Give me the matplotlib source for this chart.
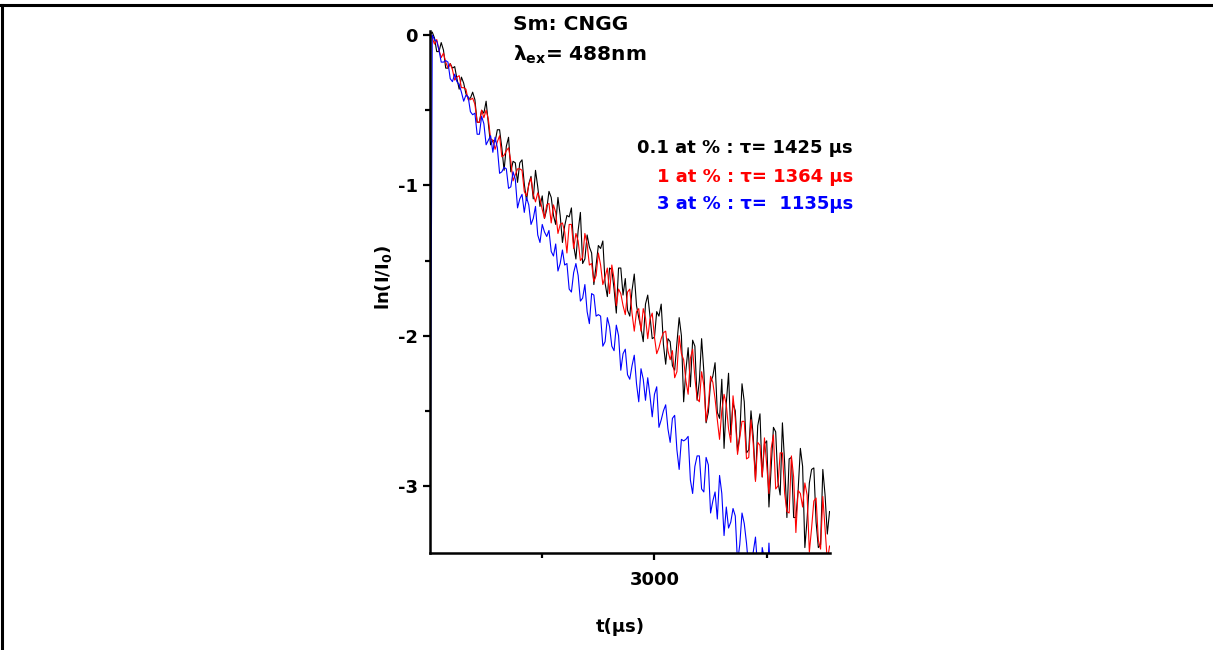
import numpy as np
import matplotlib
matplotlib.use("Agg")
import matplotlib.pyplot as plt
from matplotlib.lines import Line2D
from matplotlib.ticker import MultipleLocator, FixedLocator

# time base (µs), one sample every 10 µs
t_us = np.arange(2000, 3781, 10)

# ln(I/I0)
ln_01 = [0.00, 0.02, -0.02, -0.11, -0.11, -0.05, -0.10, -0.22, -0.22, -0.19,
         -0.22, -0.21, -0.29, -0.36, -0.28, -0.32, -0.39, -0.42, -0.42, -0.38,
         -0.43, -0.58, -0.58, -0.50, -0.52, -0.44, -0.59, -0.73, -0.70, -0.71,
         -0.63, -0.63, -0.75, -0.90, -0.74, -0.68, -0.91, -0.84, -0.85, -0.98,
         -0.85, -0.83, -0.99, -1.10, -0.99, -0.94, -1.09, -0.90, -1.01, -1.14,
         -1.07, -1.22, -1.16, -1.04, -1.08, -1.20, -1.26, -1.08, -1.20, -1.38,
         -1.27, -1.20, -1.21, -1.15, -1.40, -1.49, -1.30, -1.18, -1.52, -1.49,
         -1.33, -1.41, -1.45, -1.66, -1.53, -1.40, -1.42, -1.37, -1.65, -1.74,
         -1.55, -1.56, -1.69, -1.85, -1.55, -1.55, -1.73, -1.62, -1.83, -1.87,
         -1.70, -1.59, -1.80, -1.88, -1.95, -2.04, -1.79, -1.73, -1.87, -2.02,
         -2.01, -1.84, -1.87, -1.79, -2.06, -2.19, -2.02, -2.04, -2.20, -2.23,
         -2.05, -1.88, -2.00, -2.44, -2.23, -2.08, -2.34, -2.03, -2.07, -2.43,
         -2.30, -2.02, -2.24, -2.58, -2.51, -2.31, -2.27, -2.18, -2.51, -2.55,
         -2.29, -2.75, -2.45, -2.25, -2.66, -2.45, -2.50, -2.77, -2.66, -2.32,
         -2.44, -2.78, -2.76, -2.50, -2.67, -2.96, -2.60, -2.52, -2.94, -2.72,
         -2.70, -3.14, -2.87, -2.61, -2.64, -2.97, -3.06, -2.58, -2.85, -3.21,
         -2.82, -2.81, -3.21, -3.21, -3.03, -2.75, -2.87, -3.41, -3.22, -2.98,
         -2.89, -2.88, -3.24, -3.41, -3.39, -2.89, -3.06, -3.32, -3.17]

ln_1 = [0.01, -0.02, -0.06, -0.03, -0.10, -0.15, -0.12, -0.18, -0.22, -0.19,
        -0.23, -0.30, -0.28, -0.27, -0.35, -0.35, -0.36, -0.43, -0.43, -0.42,
        -0.46, -0.58, -0.58, -0.50, -0.55, -0.50, -0.56, -0.69, -0.70, -0.76,
        -0.71, -0.67, -0.81, -0.80, -0.77, -0.75, -0.84, -0.97, -0.93, -0.89,
        -0.89, -0.90, -1.04, -1.07, -1.00, -0.95, -1.06, -1.11, -1.05, -1.09,
        -1.16, -1.22, -1.13, -1.12, -1.25, -1.13, -1.18, -1.32, -1.26, -1.25,
        -1.31, -1.45, -1.26, -1.26, -1.42, -1.32, -1.37, -1.50, -1.48, -1.32,
        -1.39, -1.53, -1.52, -1.64, -1.60, -1.45, -1.53, -1.66, -1.61, -1.55,
        -1.72, -1.53, -1.62, -1.80, -1.69, -1.72, -1.80, -1.86, -1.71, -1.69,
        -1.85, -1.97, -1.84, -1.82, -1.97, -1.82, -1.88, -2.02, -1.89, -1.85,
        -2.01, -2.12, -2.08, -2.02, -1.98, -1.97, -2.10, -2.16, -2.10, -2.28,
        -2.24, -2.00, -2.12, -2.16, -2.30, -2.39, -2.15, -2.09, -2.28, -2.42,
        -2.44, -2.24, -2.33, -2.57, -2.46, -2.27, -2.31, -2.42, -2.56, -2.69,
        -2.50, -2.39, -2.46, -2.62, -2.71, -2.40, -2.55, -2.79, -2.68, -2.57,
        -2.57, -2.82, -2.81, -2.56, -2.72, -2.97, -2.71, -2.73, -2.94, -2.68,
        -2.86, -3.05, -2.75, -2.66, -3.02, -3.00, -2.78, -2.78, -3.05, -3.17,
        -3.18, -2.80, -2.94, -3.31, -3.03, -3.05, -3.14, -2.98, -3.06, -3.44,
        -3.28, -3.10, -3.08, -3.36, -3.42, -3.07, -3.28, -3.50, -3.40]

ln_3 = [-3.60, 0.00, -0.03, -0.04, -0.10, -0.18, -0.18, -0.17, -0.18, -0.29,
        -0.31, -0.26, -0.31, -0.33, -0.38, -0.44, -0.40, -0.41, -0.51, -0.53,
        -0.52, -0.66, -0.66, -0.54, -0.59, -0.73, -0.70, -0.67, -0.78, -0.68,
        -0.75, -0.92, -0.91, -0.88, -0.89, -1.02, -1.01, -0.91, -0.96, -1.15,
        -1.09, -1.06, -1.18, -1.08, -1.13, -1.26, -1.22, -1.14, -1.33, -1.38,
        -1.26, -1.31, -1.34, -1.30, -1.44, -1.47, -1.39, -1.57, -1.52, -1.43,
        -1.53, -1.52, -1.69, -1.71, -1.58, -1.52, -1.60, -1.77, -1.75, -1.66,
        -1.84, -1.92, -1.72, -1.73, -1.87, -1.86, -1.87, -2.07, -2.04, -1.88,
        -1.94, -2.07, -2.10, -1.93, -2.00, -2.23, -2.12, -2.09, -2.26, -2.29,
        -2.20, -2.13, -2.32, -2.44, -2.22, -2.29, -2.43, -2.28, -2.40, -2.54,
        -2.39, -2.34, -2.61, -2.56, -2.50, -2.46, -2.62, -2.71, -2.55, -2.53,
        -2.76, -2.89, -2.69, -2.70, -2.69, -2.67, -2.96, -3.05, -2.87, -2.80,
        -2.80, -3.02, -3.04, -2.81, -2.86, -3.18, -3.10, -3.04, -3.22, -2.93,
        -3.05, -3.33, -3.14, -3.28, -3.24, -3.15, -3.20, -3.51, -3.39, -3.18,
        -3.25, -3.38, -3.55, -3.57, -3.44, -3.34, -3.56, -3.72, -3.41, -3.49,
        -3.70, -3.38, -3.68, -3.75, -3.56, -3.62, -3.93, -3.95, -3.71, -3.55,
        -3.82, -3.90, -3.95, -3.70, -3.62, -4.00, -4.05, -3.60, -3.88, -3.95,
        -3.70, -3.85, -4.10, -4.10, -3.95, -3.75, -4.15, -4.00, -4.05]

series_colors = ["#000000", "#ff0000", "#0000ff"]
tau_labels = ["0.1 at % : τ= 1425 μs", "1 at % : τ= 1364 μs", "3 at % : τ=  1135μs"]

plt.rcParams["font.family"] = ["DejaVu Sans"]
plt.rcParams["font.weight"] = "bold"
plt.rcParams["mathtext.fontset"] = "dejavusans"
plt.rcParams["mathtext.default"] = "bf"
plt.rcParams["axes.unicode_minus"] = False


def main():
    W, H = 1213, 650
    fig = plt.figure(figsize=(W / 100, H / 100), dpi=100)
    ax = fig.add_axes([430 / W, 1 - 553 / H, 400 / W, (553 - 31) / H])

    for ys, c in zip([ln_01, ln_1, ln_3], series_colors):
        ax.plot(t_us, ys, color=c, lw=0.8)

    ax.set_xlim(2000, 3782)
    ax.set_ylim(-3.446, 0.027)

    ax.xaxis.set_major_locator(FixedLocator([3000]))
    ax.xaxis.set_minor_locator(FixedLocator([2500, 3500]))
    ax.yaxis.set_major_locator(MultipleLocator(1))
    ax.yaxis.set_minor_locator(MultipleLocator(0.5))

    for s in ["top", "right"]:
        ax.spines[s].set_visible(False)
    for s in ["left", "bottom"]:
        ax.spines[s].set_linewidth(1.8)

    ax.tick_params(which="major", direction="out", length=5, width=1.6,
                   labelsize=13, pad=4)
    ax.tick_params(which="minor", direction="out", length=3.5, width=1.6)
    ax.tick_params(axis="x", pad=8)

    fig.text(620 / W, 1 - 627 / H, "t(μs)", ha="center", va="center",
             fontsize=13, fontweight="bold")
    fig.text(384 / W, 1 - 277 / H, r"ln(I/I$_0$)", ha="center", va="center",
             rotation=90, fontsize=13, fontweight="bold")

    fig.text(513 / W, 1 - 25 / H, "Sm: CNGG", ha="left", va="center",
             fontsize=14.5, fontweight="bold")
    fig.text(513 / W, 1 - 55 / H, r"λ$_{ex}$= 488nm", ha="left", va="center",
             fontsize=14.5, fontweight="bold")

    for lbl, c, yy in zip(tau_labels, series_colors, [148, 177, 204]):
        fig.text(853 / W, 1 - yy / H, lbl, ha="right", va="center",
                 color=c, fontsize=13, fontweight="bold")

    # frame lines along top and left edge
    fig.add_artist(Line2D([0, 1], [1 - 5 / H, 1 - 5 / H], transform=fig.transFigure,
                          color="k", lw=2.2))
    fig.add_artist(Line2D([1.5 / W, 1.5 / W], [0, 1 - 5 / H], transform=fig.transFigure,
                          color="k", lw=2.2))

    fig.savefig("out.png", dpi=100)


if __name__ == "__main__":
    main()
